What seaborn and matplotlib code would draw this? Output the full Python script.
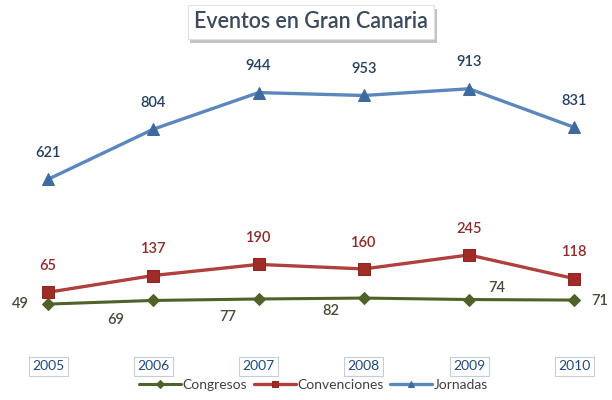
import numpy as np
import pandas as pd
import matplotlib.pyplot as plt
import matplotlib.patheffects as pe
import seaborn as sns

years = ["2005", "2006", "2007", "2008", "2009", "2010"]
congresos = [49, 69, 77, 82, 74, 71]
convenciones = [65, 137, 190, 160, 245, 118]
jornadas = [621, 804, 944, 953, 913, 831]

sns.set_theme(style="white")
plt.rcParams['font.family'] = ['Lato', 'DejaVu Sans']

# stacked line chart: each series sits on top of the previous one
stack_con = np.array(congresos)
stack_conv = stack_con + np.array(convenciones)
stack_jor = stack_conv + np.array(jornadas)

df = pd.DataFrame({
    'idx': list(range(len(years))) * 3,
    'valor': list(stack_con) + list(stack_conv) + list(stack_jor),
    'serie': ['Congresos'] * 6 + ['Convenciones'] * 6 + ['Jornadas'] * 6,
})

fig = plt.figure(figsize=(6.12, 4.0), dpi=100)
ax = fig.add_axes([0.0065, 0.2175, 0.992, 0.6325])

styles = {
    'Congresos': dict(color='#4f6228', marker='D', ms=6, mfc='#4f6228', mec='#4f6228', lw=2.2),
    'Convenciones': dict(color='#b0403d', marker='s', ms=9, mfc='#a02c28', mec='#8e2622', lw=2.4),
    'Jornadas': dict(color='#5b87bd', marker='^', ms=9, mfc='#3f6a9e', mec='#3f6a9e', lw=2.4),
}
for name in ['Congresos', 'Convenciones', 'Jornadas']:
    st = styles[name]
    sub = df[df['serie'] == name]
    sns.lineplot(data=sub, x='idx', y='valor', ax=ax, color=st['color'], lw=st['lw'],
                 marker=st['marker'], markersize=st['ms'], markerfacecolor=st['mfc'],
                 markeredgecolor=st['mec'], label=name)

# data labels
for i, v in enumerate(jornadas):
    ax.annotate(str(v), (i, stack_jor[i]), xytext=(0, 19), textcoords='offset points',
                ha='center', va='center', fontsize=10.5, color='#243f60', fontweight='semibold')
for i, v in enumerate(convenciones):
    ax.annotate(str(v), (i, stack_conv[i]), xytext=(0, 19), textcoords='offset points',
                ha='center', va='center', fontsize=10.5, color='#8b2c2a', fontweight='semibold')
con_off = [(-20, 0), (-27, -14), (-22, -13), (-24, -9), (20, 8), (18, -1)]
for i, v in enumerate(congresos):
    ax.annotate(str(v), (i, stack_con[i]), xytext=con_off[i], textcoords='offset points',
                ha='center', va='center', fontsize=10.5, color='#4a4a3a', fontweight='semibold')

ax.set_xlim(-0.42, 5.35)
ax.set_ylim(0, 1390)
ax.set_yticks([])
ax.set_xticks(range(len(years)))
ax.set_xticklabels(years)
ax.tick_params(axis='x', length=0, pad=34, labelsize=10, labelcolor='#1f497d')
for lab in ax.get_xticklabels():
    lab.set_bbox(dict(boxstyle='square,pad=0.25', facecolor='white',
                      edgecolor='#c8ccd4', lw=0.8))
for sp in ax.spines.values():
    sp.set_visible(False)
ax.set_xlabel('')
ax.set_ylabel('')

leg = ax.legend(loc='center', bbox_to_anchor=(0.51, -0.285), ncol=3, frameon=False,
                fontsize=10, handlelength=3.0, handletextpad=0.1, columnspacing=0.5,
                labelcolor='#404040')
for h in leg.legend_handles:
    h.set_markersize(4)

t = fig.text(0.508, 0.946, 'Eventos en Gran Canaria', ha='center', va='center',
             fontsize=15.5, color='#3b4a5c', fontweight='semibold',
             bbox=dict(boxstyle='square,pad=0.3', facecolor='white', edgecolor='#e0e0e0', lw=0.8))
t.get_bbox_patch().set_path_effects([
    pe.SimplePatchShadow(offset=(2, -3), shadow_rgbFace='#888888', alpha=0.5),
    pe.Normal()])

fig.savefig('out.png', dpi=100)
